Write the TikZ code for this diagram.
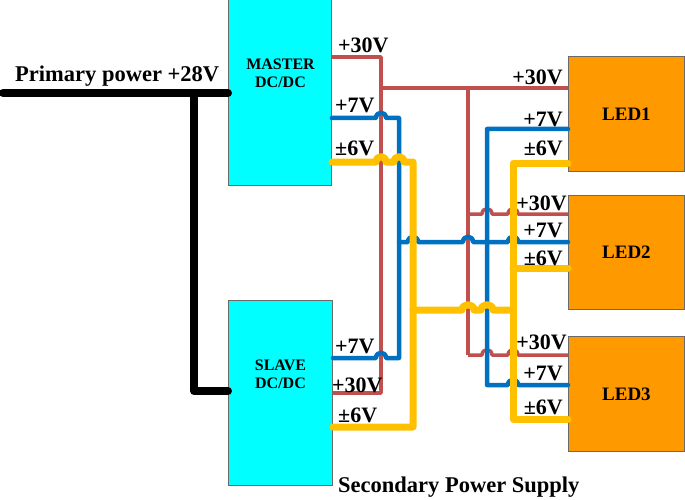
\documentclass[tikz,border=0pt]{standalone}
\usepackage{fontspec}
\setmainfont{Liberation Serif}
\definecolor{wred}{HTML}{C0504D}
\definecolor{wblue}{HTML}{0070C0}
\definecolor{wyel}{HTML}{FFC000}
\definecolor{boxcyan}{HTML}{00FFFF}
\definecolor{boxorange}{HTML}{FF9900}
\definecolor{edgegray}{HTML}{6A6A6A}
\begin{document}
\begin{tikzpicture}[x=1pt,y=-1pt,
  conv/.style={draw=edgegray,line width=0.9pt,fill=boxcyan,anchor=north west,inner sep=0pt},
  ledbox/.style={draw=edgegray,line width=0.9pt,fill=boxorange,anchor=north west,inner sep=0pt,
     font=\fontsize{19}{21}\selectfont\bfseries},
  boxtxt/.style={font=\fontsize{16}{19}\selectfont\bfseries,align=center,inner sep=0pt},
  vlab/.style={font=\fontsize{22}{24}\selectfont\bfseries,inner sep=0pt},
  big/.style={font=\fontsize{22.5}{24}\selectfont\bfseries,inner sep=0pt},
  redw/.style={draw=wred,line width=3.5pt,line join=round},
  bluew/.style={draw=wblue,line width=4.5pt,line cap=round,line join=round},
  yelw/.style={draw=wyel,line width=7pt,line cap=round,line join=round},
  blackw/.style={draw=black,line width=8pt,line cap=round,line join=round}]
\useasboundingbox (0,0) rectangle (685,500);

% boxes
\node[conv,minimum width=103pt,minimum height=186pt] (master) at (228,-1) {};
\node[conv,minimum width=104pt,minimum height=185pt] (slave) at (228,300) {};
\node[ledbox,minimum width=116pt,minimum height=115pt] (led1) at (568,56) {LED1};
\node[ledbox,minimum width=116pt,minimum height=114pt] (led2) at (568,195) {LED2};
\node[ledbox,minimum width=116pt,minimum height=115pt] (led3) at (568,336) {LED3};

\node[boxtxt,anchor=base] (mtxt) at (280.5,88) {MASTER\\[-1pt]DC/DC};
\node[boxtxt,anchor=base] (stxt) at (280.5,388) {SLAVE\\[-1pt]DC/DC};

% primary power
\coordinate (pstart) at (3,93);
\coordinate (pbranch) at (194,93);
\draw[blackw] (pstart) -- (master.west |- pstart);
\draw[blackw] (pbranch) |- (slave.west |- 0,391);
\node[big,anchor=base west] (ptxt) at (15,82) {Primary power +28V};
\node[big,anchor=base west] (stitle) at (338,492) {Secondary Power Supply};

% key coordinates of bus columns
\coordinate (rA) at (381,0);  % red column near converters
\coordinate (bA) at (399,0);  % blue column near converters
\coordinate (yA) at (413,0);  % yellow column near converters
\coordinate (rB) at (468,0);  % red column near LEDs
\coordinate (bB) at (487,0);  % blue column near LEDs
\coordinate (yB) at (513,0);  % yellow column near LEDs

% ---------- red (+30V) ----------
\draw[redw] (master.east |- 0,57) -- (381,57) -- (381,393) -- (slave.east |- 0,393);
\draw[redw] (381,88) -- (led1.west |- 0,88);
\draw[redw] (468,88) -- (468,355);
% LED2 +30V with hop over blue column
\draw[redw] (468,214) -- (482,214) .. controls (482,207) and (492,207) .. (492,214)
   -- (508,214) .. controls (508,207) and (518,207) .. (518,214) -- (led2.west |- 0,214);
% LED3 +30V
\draw[redw] (468,355) -- (482,355) .. controls (482,348) and (492,348) .. (492,355)
   -- (508,355) .. controls (508,348) and (518,348) .. (518,355) -- (led3.west |- 0,355);

% ---------- blue (+7V) ----------
\draw[bluew] (master.east |- 0,118) -- (376,118) .. controls (376,111) and (386,111) .. (386,118)
   -- (399,118) -- (399,358) -- (386,358) .. controls (386,351) and (376,351) .. (376,358)
   -- (slave.east |- 0,358);
\draw[bluew] (399,242) -- (408,242) .. controls (408,235) and (418,235) .. (418,242)
   -- (463,242) .. controls (463,235) and (473,235) .. (473,242)
   -- (508,242) .. controls (508,235) and (518,235) .. (518,242) -- (led2.west |- 0,242);
\draw[bluew] (led1.west |- 0,129) -- (487,129) -- (487,385) -- (508,385)
   .. controls (508,378) and (518,378) .. (518,385) -- (led3.west |- 0,385);

% ---------- yellow (±6V) ----------
\draw[yelw] (master.east |- 0,162) -- (376,162) .. controls (376,155) and (386,155) .. (386,162)
   -- (394,162) .. controls (394,155) and (404,155) .. (404,162)
   -- (413,162) -- (413,427) -- (slave.east |- 0,427);
\draw[yelw] (413,310) -- (462,310) .. controls (462,303) and (474,303) .. (474,310)
   -- (481,310) .. controls (481,303) and (493,303) .. (493,310) -- (513,310);
\draw[yelw] (led1.west |- 0,163) -- (513,163) -- (513,419) -- (led3.west |- 0,419);
\draw[yelw] (513,268) -- (led2.west |- 0,268);

% ---------- voltage labels ----------
\node[vlab,anchor=base west] (m30) at (338,53) {+30V};
\node[vlab,anchor=base west] (m7) at (335,113) {+7V};
\node[vlab,anchor=base west] (m6) at (335,155) {\char"00B1 6V};
\node[vlab,anchor=base west] (s7) at (335,353) {+7V};
\node[vlab,anchor=base west] (s30) at (332,392) {+30V};
\node[vlab,anchor=base west] (s6) at (338,422) {\char"00B1 6V};
\node[vlab,anchor=base east] (l130) at (563,85) {+30V};
\node[vlab,anchor=base east] (l17) at (563,127) {+7V};
\node[vlab,anchor=base east] (l16) at (563,155) {\char"00B1 6V};
\node[vlab,anchor=base east] (l230) at (567,210) {+30V};
\node[vlab,anchor=base east] (l27) at (563,237) {+7V};
\node[vlab,anchor=base east] (l26) at (563,265) {\char"00B1 6V};
\node[vlab,anchor=base east] (l330) at (567,349) {+30V};
\node[vlab,anchor=base east] (l37) at (563,380) {+7V};
\node[vlab,anchor=base east] (l36) at (563,414) {\char"00B1 6V};
\end{tikzpicture}
\end{document}
